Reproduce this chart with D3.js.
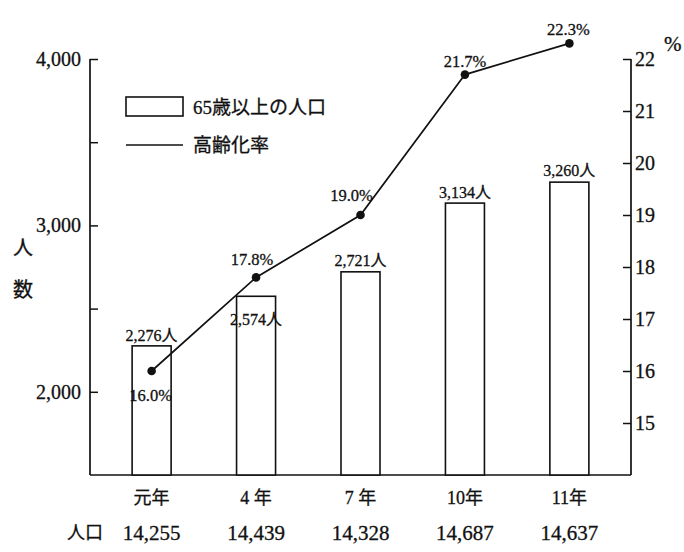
<!DOCTYPE html>
<html>
<head>
<meta charset="utf-8">
<script src="https://cdn.jsdelivr.net/npm/d3@7"></script>
<style>
  body { margin: 0; background: #fff; }
  text { font-family: "Liberation Serif", "Noto Sans CJK JP", serif; fill: #111; stroke: #111; stroke-width: 0.3; }
</style>
</head>
<body>
<div id="chart"></div>
<script>
// data
var years = ['元年', '4 年', '7 年', '10年', '11年'];
var elderly = [2276, 2574, 2721, 3134, 3260];
var agingRate = [16.0, 17.8, 19.0, 21.7, 22.3];
var population = ['14,255', '14,439', '14,328', '14,687', '14,637'];
var leftTicks = [2000, 2500, 3000, 3500, 4000];
var leftLabels = ['2,000', '', '3,000', '', '4,000'];
var rightTicks = [15, 16, 17, 18, 19, 20, 21, 22];

var width = 684, height = 552;
var plotLeft = 90, plotRight = 631, plotTop = 59, plotBottom = 475;
var ink = '#111';

var svg = d3.select('#chart').append('svg')
  .attr('width', width)
  .attr('height', height);

var x = d3.scalePoint().domain(years).range([plotLeft, plotRight]).padding(0.59);
var yL = d3.scaleLinear().domain([1500, 4000]).range([plotBottom, plotTop]);
var yR = d3.scaleLinear().domain([14, 22]).range([plotBottom, plotTop]);
var barW = 39;

// left axis, ticks pointing inward
var axisL = d3.axisRight(yL).tickValues(leftTicks).tickSize(8).tickFormat('');
var gL = svg.append('g').attr('transform', 'translate(' + plotLeft + ',0)').call(axisL);
gL.select('.domain').remove();
gL.selectAll('line').attr('stroke', ink).attr('stroke-width', 1.5);
svg.append('line')
  .attr('x1', plotLeft).attr('x2', plotLeft)
  .attr('y1', yL(4000)).attr('y2', plotBottom)
  .attr('stroke', ink).attr('stroke-width', 1.7);
svg.selectAll('.lLabel').data(leftTicks).enter().append('text')
  .attr('class', 'lLabel')
  .attr('x', plotLeft - 9)
  .attr('y', function(d){ return yL(d) + 7; })
  .attr('text-anchor', 'end')
  .attr('font-size', 20)
  .text(function(d, i){ return leftLabels[i]; });

// right axis, ticks pointing inward
var axisR = d3.axisLeft(yR).tickValues(rightTicks).tickSize(8).tickFormat('');
var gR = svg.append('g').attr('transform', 'translate(' + plotRight + ',0)').call(axisR);
gR.select('.domain').remove();
gR.selectAll('line').attr('stroke', ink).attr('stroke-width', 1.5);
svg.append('line')
  .attr('x1', plotRight).attr('x2', plotRight)
  .attr('y1', yR(22)).attr('y2', plotBottom)
  .attr('stroke', ink).attr('stroke-width', 1.7);
svg.selectAll('.rLabel').data(rightTicks).enter().append('text')
  .attr('class', 'rLabel')
  .attr('x', plotRight + 4)
  .attr('y', function(d){ return yR(d) + 7; })
  .attr('font-size', 20)
  .text(function(d){ return d; });
svg.append('text').attr('x', 664).attr('y', 51).attr('font-size', 21).text('%');

// baseline
svg.append('line')
  .attr('x1', plotLeft).attr('x2', plotRight)
  .attr('y1', plotBottom).attr('y2', plotBottom)
  .attr('stroke', ink).attr('stroke-width', 1.7);

// y title
svg.append('text').attr('x', 23).attr('y', 255).attr('font-size', 20)
  .attr('text-anchor', 'middle').text('人');
svg.append('text').attr('x', 23).attr('y', 297).attr('font-size', 20)
  .attr('text-anchor', 'middle').text('数');

// bars
svg.selectAll('.bar').data(elderly).enter().append('rect')
  .attr('class', 'bar')
  .attr('x', function(d, i){ return x(years[i]) - barW / 2; })
  .attr('y', function(d){ return yL(d); })
  .attr('width', barW)
  .attr('height', function(d){ return plotBottom - yL(d); })
  .attr('fill', '#fff')
  .attr('stroke', ink)
  .attr('stroke-width', 1.6);

// bar labels: second one sits inside its bar
var barLabelDy = [-5, 29, -6, -5, -6];
svg.selectAll('.barLabel').data(elderly).enter().append('text')
  .attr('class', 'barLabel')
  .attr('x', function(d, i){ return x(years[i]); })
  .attr('y', function(d, i){ return yL(d) + barLabelDy[i]; })
  .attr('text-anchor', 'middle')
  .attr('font-size', 16)
  .text(function(d){ return d3.format(',')(d) + '人'; });

// aging rate line
var line = d3.line()
  .x(function(d, i){ return x(years[i]); })
  .y(function(d){ return yR(d); });
svg.append('path').datum(agingRate)
  .attr('d', line)
  .attr('fill', 'none')
  .attr('stroke', ink)
  .attr('stroke-width', 1.7);
svg.selectAll('.dot').data(agingRate).enter().append('circle')
  .attr('cx', function(d, i){ return x(years[i]); })
  .attr('cy', function(d){ return yR(d); })
  .attr('r', 4.3)
  .attr('fill', ink);

var rateDx = [-1, -4, -9, 0, -1];
var rateDy = [30, -12, -14, -8, -8];
svg.selectAll('.rateLabel').data(agingRate).enter().append('text')
  .attr('class', 'rateLabel')
  .attr('x', function(d, i){ return x(years[i]) + rateDx[i]; })
  .attr('y', function(d, i){ return yR(d) + rateDy[i]; })
  .attr('text-anchor', 'middle')
  .attr('font-size', 16.5)
  .text(function(d){ return d.toFixed(1) + '%'; });

// category labels
svg.selectAll('.cat').data(years).enter().append('text')
  .attr('class', 'cat')
  .attr('x', function(d){ return x(d); })
  .attr('y', 504)
  .attr('text-anchor', 'middle')
  .attr('font-size', 18)
  .text(function(d){ return d; });

// population row
svg.append('text').attr('x', 85).attr('y', 539).attr('font-size', 18)
  .attr('text-anchor', 'middle').text('人口');
svg.selectAll('.pop').data(population).enter().append('text')
  .attr('class', 'pop')
  .attr('x', function(d, i){ return x(years[i]); })
  .attr('y', 540)
  .attr('text-anchor', 'middle')
  .attr('font-size', 21)
  .text(function(d){ return d; });

// legend
var legend = svg.append('g').attr('transform', 'translate(126,97)');
legend.append('rect')
  .attr('width', 57).attr('height', 19)
  .attr('fill', '#fff').attr('stroke', ink).attr('stroke-width', 1.6);
legend.append('text').attr('x', 67).attr('y', 17).attr('font-size', 19).text('65歳以上の人口');
legend.append('line')
  .attr('x1', 0).attr('x2', 57).attr('y1', 48).attr('y2', 48)
  .attr('stroke', ink).attr('stroke-width', 1.5);
legend.append('text').attr('x', 67).attr('y', 55).attr('font-size', 19).text('高齢化率');
</script>
</body>
</html>
